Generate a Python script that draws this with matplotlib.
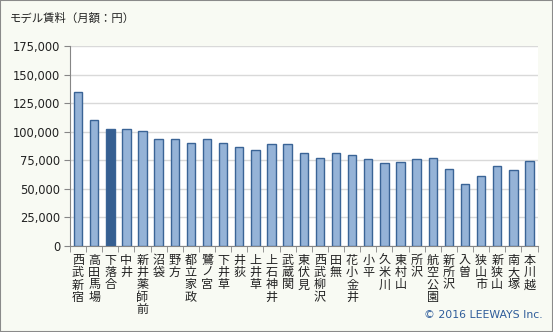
import matplotlib
matplotlib.use("Agg")

import matplotlib.pyplot as plt
from matplotlib.patches import Rectangle
from matplotlib.ticker import FuncFormatter, FixedLocator

plt.rcParams["font.family"] = ["DejaVu Sans", "Noto Sans CJK JP"]

# Seibu Shinjuku line stations and model monthly rent (yen)
stations = [
    "西武新宿", "高田馬場", "下落合", "中井", "新井薬師前", "沼袋", "野方",
    "都立家政", "鷺ノ宮", "下井草", "井荻", "上井草", "上石神井", "武蔵関",
    "東伏見", "西武柳沢", "田無", "花小金井", "小平", "久米川", "東村山",
    "所沢", "航空公園", "新所沢", "入曽", "狭山市", "新狭山", "南大塚", "本川越",
]
rents = [
    135000, 110000, 102000, 102000, 100500, 93500, 93500,
    90000, 93500, 90000, 86000, 84000, 89000, 89000,
    81500, 77000, 81500, 79000, 76000, 72500, 73500,
    76000, 77000, 67000, 54000, 61000, 70000, 66500, 74500,
]
highlight = "下落合"
y_ticks = [0, 25000, 50000, 75000, 100000, 125000, 150000, 175000]

BG = "#f8faf3"
BAR = "#95b3d7"
BAR_HI = "#365f91"
EDGE = "#3a6496"

fig = plt.figure(figsize=(5.53, 3.32), dpi=100, facecolor=BG)
ax = fig.add_axes([0.1266, 0.2605, 0.8454, 0.6009])
ax.set_facecolor("white")

x = list(range(len(stations)))
colors = [BAR_HI if s == highlight else BAR for s in stations]
ax.bar(x, rents, width=0.52, color=colors, edgecolor=EDGE, linewidth=1, zorder=3)

ax.set_xlim(-0.5, len(stations) - 0.5)
ax.set_ylim(0, 175000)
ax.yaxis.set_major_locator(FixedLocator(y_ticks))
ax.yaxis.set_major_formatter(FuncFormatter(lambda v, _: f"{int(v):,}"))
ax.grid(axis="y", color="#d9d9d9", linewidth=1, zorder=0)
ax.set_axisbelow(True)

# vertical station names, one character per line
ax.set_xticks(x)
ax.set_xticklabels(["\n".join(s) for s in stations], fontsize=8.7,
                   family=["Noto Sans CJK JP"], linespacing=0.93,
                   va="top", color="#222222")
ax.tick_params(axis="x", which="major", length=0, pad=6)
ax.set_xticks([i + 0.5 for i in range(-1, len(stations))], minor=True)
ax.tick_params(axis="x", which="minor", length=4, color="#868686")
ax.tick_params(axis="y", length=4, color="#868686", labelsize=8.3,
               labelcolor="#222222", pad=3)

for side in ("top", "right"):
    ax.spines[side].set_visible(False)
for side in ("left", "bottom"):
    ax.spines[side].set_color("#868686")

fig.text(10 / 553, 1 - 18 / 332, "モデル賃料（月額：円）", fontsize=8.2,
         family=["Noto Sans CJK JP"], color="#222222", va="center", ha="left")
fig.text(543 / 553, 1 - 315 / 332, "© 2016 LEEWAYS Inc.", fontsize=7.8,
         color="#2e5c9a", va="center", ha="right")

fig.patches.append(Rectangle((0, 0), 1, 1, transform=fig.transFigure,
                             fill=False, edgecolor="#8a8a8a", linewidth=1.5))

fig.savefig("out.png", dpi=100, facecolor=BG)
